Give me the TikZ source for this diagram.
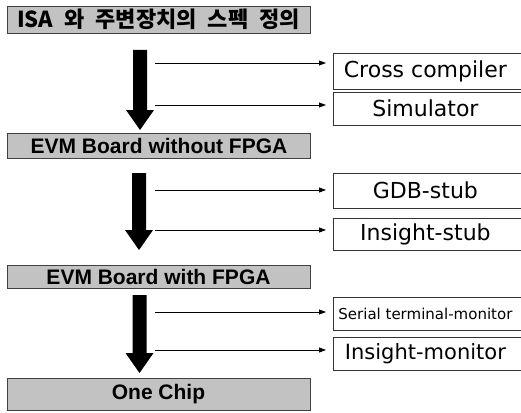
\documentclass[tikz,border=0pt]{standalone}
\usepackage{fontspec}
\usetikzlibrary{arrows.meta,calc}
\newfontfamily\krfont{Noto Sans CJK KR}
\newfontfamily\stagefont{Liberation Sans}
\newfontfamily\toolfont{DejaVu Sans}
% tool label: centred in the visible part of an open-ended box
\newcommand\toollabel[1]{\makebox[184pt]{#1}\hspace*{16pt}}
% thick downward arrow from a top point to a tip point
\newcommand\flowarrow[2]{%
  \fill[flowfill] ($(#1)+(-7,0)$) -- ($(#2)+(-7,-20)$) -- ($(#2)+(-14,-20)$) --
    (#2) -- ($(#2)+(14,-20)$) -- ($(#2)+(7,-20)$) -- ($(#1)+(7,0)$) -- cycle;}
\begin{document}
\begin{tikzpicture}[x=1pt,y=-1pt,
  stagebox/.style={draw=black!75, line width=0.9pt, fill=black!24,
    minimum width=303pt, inner sep=0pt, font=\stagefont\bfseries\fontsize{21}{23}\selectfont},
  toolbox/.style={draw=black!80, line width=0.8pt, inner sep=0pt, anchor=west,
    font=\toolfont\fontsize{22}{24}\selectfont},
  flowfill/.style={fill=black},
  feed/.style={line width=0.8pt, -{Triangle[length=7pt,width=5pt]}, shorten >=7pt}]
\path[use as bounding box, clip] (0,0) rectangle (521,412);

% stages
\node[stagebox, minimum height=27pt] (b1) at (158.5,19.5)
  {\krfont\bfseries\fontsize{22}{24}\selectfont\spaceskip=11pt ISA 와 주변장치의 스펙 정의};
\node[stagebox, minimum height=25pt] (b2) at (159,145.5) {EVM Board without FPGA};
\node[stagebox, minimum height=23pt] (b3) at (158.5,276.5) {EVM Board with FPGA};
\node[stagebox, minimum height=32pt] (b4) at (158.5,394) {One Chip};

% tools
\node[toolbox, minimum height=36pt] (r1) at (333,71) {\toollabel{Cross compiler}};
\node[toolbox, minimum height=33pt] (r2) at (333,108.5) {\toollabel{Simulator}};
\node[toolbox, minimum height=35pt] (r3) at (333,190.5) {\toollabel{GDB-stub}};
\node[toolbox, minimum height=32pt] (r4) at (333,234) {\toollabel{Insight-stub}};
\node[toolbox, minimum height=33pt] (r5) at (333,313.5)
  {\toollabel{\fontsize{15}{17}\selectfont Serial terminal-monitor}};
\node[toolbox, minimum height=33pt] (r6) at (333,353.5)
  {\toollabel{\fontsize{21}{23}\selectfont Insight-monitor}};

% flow arrows
\coordinate (t1) at (140,50);  \coordinate (h1) at (140,130);
\coordinate (t2) at (139,173); \coordinate (h2) at (139,250);
\coordinate (t3) at (139.5,295); \coordinate (h3) at (139.5,373);
\flowarrow{t1}{h1}
\flowarrow{t2}{h2}
\flowarrow{t3}{h3}

% feeds to the tools
\coordinate (s1) at (155,63);
\coordinate (s2) at (155,105);
\coordinate (s3) at (155,190);
\coordinate (s4) at (155,230);
\coordinate (s5) at (155,312);
\coordinate (s6) at (155,350);
\draw[feed] (s1) -- (r1.west |- s1);
\draw[feed] (s2) -- (r2.west |- s2);
\draw[feed] (s3) -- (r3.west |- s3);
\draw[feed] (s4) -- (r4.west |- s4);
\draw[feed] (s5) -- (r5.west |- s5);
\draw[feed] (s6) -- (r6.west |- s6);
\end{tikzpicture}
\end{document}
